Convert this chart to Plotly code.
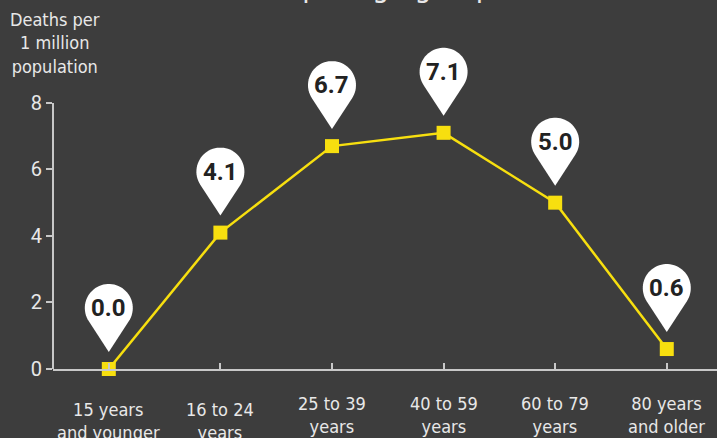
import numpy as np
import plotly.graph_objects as go

categories = ["15 years and younger", "16 to 24 years", "25 to 39 years",
              "40 to 59 years", "60 to 79 years", "80 years and older"]
tick_labels = ["15 years<br>and younger", "16 to 24<br>years", "25 to 39<br>years",
               "40 to 59<br>years", "60 to 79<br>years", "80 years<br>and older"]
deaths_per_million = [0.0, 4.1, 6.7, 7.1, 5.0, 0.6]
value_labels = ["0.0", "4.1", "6.7", "7.1", "5.0", "0.6"]
y_ticks = [0, 2, 4, 6, 8]
y_title = "Deaths per<br>1 million<br>population"
chart_title = "Deaths per age group"

BG = "#3d3d3d"
YELLOW = "#f7df0f"
TEXT = "#e8e8e8"
AXIS = "#c8c8c8"
COND = "Liberation Sans Narrow, DejaVu Sans Condensed, Roboto, sans-serif"


def pin_path(r=24.0, c=61.0, tip=17.0, n=48):
    d = c - tip
    phi = np.arccos(r / d)
    a0 = -np.pi / 2 + phi
    a1 = 3 * np.pi / 2 - phi
    angs = np.linspace(a0, a1, n)
    pts = [(0.0, tip)] + [(r * np.cos(a), c + r * np.sin(a)) for a in angs]
    s = "M" + " L".join(f"{x:.2f},{y:.2f}" for x, y in pts) + " Z"
    return s


fig = go.Figure()
fig.add_trace(go.Scatter(
    x=categories, y=deaths_per_million, mode="lines+markers",
    line=dict(color=YELLOW, width=2.5),
    marker=dict(symbol="square", size=14, color=YELLOW),
    hoverinfo="skip", showlegend=False, cliponaxis=False,
))

path = pin_path()
for cat, val, lab in zip(categories, deaths_per_million, value_labels):
    fig.add_shape(type="path", xref="x", yref="y", xsizemode="pixel", ysizemode="pixel",
                  xanchor=cat, yanchor=val, path=path,
                  fillcolor="white", line=dict(width=0), layer="above")
    fig.add_annotation(x=cat, y=val, xref="x", yref="y", text=f"<b>{lab}</b>",
                       showarrow=False, yshift=61, xshift=0,
                       font=dict(family="Roboto, sans-serif", size=24, color="#222222"))

# category labels
for i, (cat, lab) in enumerate(zip(categories, tick_labels)):
    shift = -28 if i < 2 else -22
    fig.add_annotation(x=cat, y=0, xref="x", yref="paper", yanchor="top",
                       text=lab, showarrow=False, yshift=shift,
                       font=dict(family=COND, size=18, color=TEXT))

# y-axis line from 0 to top tick
fig.add_shape(type="line", xref="paper", yref="y", x0=0, x1=0, y0=0, y1=max(y_ticks),
              line=dict(color=AXIS, width=2), layer="below")

# y-axis title
fig.add_annotation(x=0, y=max(y_ticks), xref="paper", yref="y", xanchor="center",
                   yanchor="bottom", yshift=24, xshift=2, text=y_title, showarrow=False,
                   font=dict(family=COND, size=18, color=TEXT))

# chart title (cut off at top)
fig.add_annotation(x=0.44, y=1, xref="paper", yref="paper", xanchor="center",
                   yanchor="bottom", yshift=37, text=chart_title, showarrow=False,
                   font=dict(family=COND, size=30, color=TEXT))

fig.update_layout(
    width=717, height=438,
    margin=dict(l=53, r=0, t=43, b=69),
    paper_bgcolor=BG, plot_bgcolor=BG,
    xaxis=dict(type="category", range=[-0.5, 5.45], showgrid=False, zeroline=False,
               showline=True, linecolor=AXIS, linewidth=2,
               ticks="inside", ticklen=6, tickcolor=AXIS, tickwidth=1.5,
               showticklabels=False, fixedrange=True),
    yaxis=dict(range=[0, 9.8], showgrid=False, zeroline=False, showline=False,
               tickvals=y_ticks, ticks="outside", ticklen=6, tickcolor=AXIS, tickwidth=1.5,
               tickfont=dict(family="Roboto, sans-serif", size=20, color=TEXT),
               fixedrange=True),
)

fig.write_html("out.html", config={"displayModeBar": False},
               post_script="document.body.style.margin='0';document.body.style.overflow='hidden';")
